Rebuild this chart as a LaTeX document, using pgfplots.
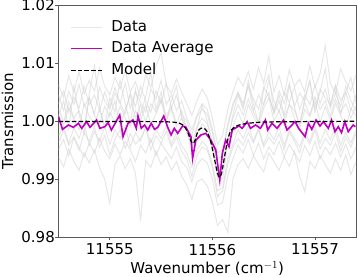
\documentclass[border=0pt]{standalone}
\usepackage{pgfplots}
\usepackage{pgfplotstable}
\pgfplotsset{compat=1.18}
\usepackage{fontspec}
\setmainfont{DejaVu Sans}
\definecolor{mymag}{RGB}{191,0,191}
\definecolor{mygray}{RGB}{211,211,211}
\definecolor{spine}{RGB}{90,90,90}

\pgfplotstableread{
x g1 g2 g3 g4 g5 g6 g7 g8 g9 g10
11554.50 1.0045 0.9962 1.0010 1.0062 0.9938 1.0021 0.9975 1.0030 0.9951 1.0008
11554.55 1.0018 0.9985 0.9992 1.0041 0.9921 0.9998 0.9990 1.0052 0.9968 1.0035
11554.60 1.0051 0.9958 1.0024 1.0078 0.9952 1.0033 0.9962 1.0015 0.9940 0.9985
11554.65 1.0029 0.9972 1.0003 1.0050 0.9930 1.0005 0.9988 1.0041 0.9972 1.0060
11554.70 1.0063 0.9949 0.9985 1.0085 0.9915 1.0018 0.9970 1.0022 0.9955 1.0012
11554.75 1.0025 0.9980 1.0030 1.0047 0.9945 0.9990 0.9995 1.0060 0.9938 0.9978
11554.80 1.0040 0.9965 1.0008 1.0070 0.9928 1.0040 0.9958 1.0028 0.9962 1.0048
11554.85 1.0012 0.9990 0.9995 1.0052 0.9950 1.0010 0.9982 1.0045 0.9945 1.0095
11554.90 1.0058 0.9955 1.0020 1.0091 0.9920 0.9995 0.9965 1.0018 0.9970 1.0025
11554.95 1.0035 0.9975 0.9988 1.0060 0.9900 1.0025 0.9990 1.0050 0.9948 0.9990
11555.00 1.0020 0.9942 1.0015 1.0045 0.9858 1.0008 0.9960 1.0025 0.9935 1.0040
11555.05 1.0048 0.9968 0.9998 1.0075 0.9925 1.0035 0.9985 1.0058 0.9960 1.0015
11555.10 1.0030 0.9985 1.0025 1.0055 0.9940 0.9992 0.9970 1.0032 0.9942 1.0070
11555.15 1.0065 0.9952 1.0005 1.0088 0.9918 1.0020 0.9992 1.0012 0.9965 1.0030
11555.20 1.0022 0.9978 0.9990 1.0050 0.9935 1.0045 0.9955 1.0048 0.9950 0.9995
11555.25 1.0050 0.9960 1.0018 1.0068 0.9910 1.0005 0.9980 1.0025 0.9930 1.0055
11555.30 1.0032 0.9970 1.0000 1.0040 0.9828 1.0028 0.9965 1.0060 0.9958 1.0010
11555.35 1.0015 0.9988 1.0028 1.0080 0.9932 0.9998 0.9990 1.0035 0.9945 1.0042
11555.40 1.0055 0.9950 0.9995 1.0058 0.9920 1.0030 0.9962 1.0015 0.9970 1.0085
11555.45 1.0038 0.9975 1.0012 1.0095 0.9948 1.0015 0.9985 1.0052 0.9940 1.0020
11555.50 1.0070 0.9962 1.0035 1.0118 0.9925 1.0040 0.9970 1.0030 0.9962 1.0050
11555.55 1.0028 0.9982 1.0002 1.0062 0.9938 1.0008 0.9992 1.0065 0.9948 0.9998
11555.60 1.0045 0.9955 1.0020 1.0048 0.9915 1.0025 0.9960 1.0022 0.9935 1.0035
11555.65 1.0018 0.9972 0.9990 1.0072 0.9930 0.9995 0.9980 1.0045 0.9955 1.0060
11555.70 1.0035 0.9948 1.0005 1.0050 0.9905 1.0018 0.9958 1.0010 0.9930 1.0005
11555.75 1.0005 0.9935 0.9980 1.0030 0.9890 0.9985 0.9945 1.0000 0.9920 0.9990
11555.80 0.9985 0.9905 0.9955 1.0010 0.9865 0.9960 0.9920 0.9975 0.9895 0.9950
11555.85 1.0010 0.9940 0.9978 1.0035 0.9895 0.9990 0.9950 1.0008 0.9925 0.9985
11555.90 1.0030 0.9955 0.9995 1.0055 0.9900 1.0005 0.9965 1.0020 0.9935 1.0028
11555.95 1.0020 0.9950 0.9985 1.0040 0.9888 0.9995 0.9955 1.0012 0.9928 1.0000
11556.00 0.9985 0.9920 0.9950 1.0005 0.9860 0.9965 0.9925 0.9980 0.9900 0.9960
11556.05 0.9945 0.9870 0.9905 0.9960 0.9820 0.9915 0.9880 0.9935 0.9855 0.9900
11556.10 0.9950 0.9880 0.9900 0.9975 0.9830 0.9920 0.9885 0.9940 0.9860 0.9915
11556.15 0.9995 0.9925 0.9960 1.0020 0.9808 0.9970 0.9935 0.9990 0.9905 0.9965
11556.20 1.0030 0.9955 0.9990 1.0050 0.9900 1.0005 0.9960 1.0025 0.9935 1.0010
11556.25 1.0048 0.9970 1.0015 1.0075 0.9925 1.0028 0.9985 1.0050 0.9958 1.0045
11556.30 1.0025 0.9958 0.9995 1.0060 0.9935 1.0010 0.9970 1.0030 0.9945 1.0020
11556.35 1.0060 0.9980 1.0028 1.0085 0.9918 1.0038 0.9992 1.0062 0.9968 1.0070
11556.40 1.0038 0.9962 1.0008 1.0055 0.9940 1.0015 0.9965 1.0018 0.9940 1.0030
11556.45 1.0020 0.9985 0.9990 1.0092 0.9925 0.9998 0.9988 1.0045 0.9962 0.9995
11556.50 1.0058 0.9955 1.0022 1.0065 0.9912 1.0030 0.9960 1.0028 0.9935 1.0055
11556.55 1.0042 0.9972 1.0040 1.0112 0.9945 1.0050 0.9982 1.0070 0.9955 1.0080
11556.60 1.0015 0.9960 1.0000 1.0050 0.9930 1.0012 0.9968 1.0035 0.9942 1.0018
11556.65 1.0052 0.9978 1.0018 1.0078 0.9915 1.0035 0.9990 1.0015 0.9965 1.0045
11556.70 1.0030 0.9950 0.9992 1.0045 0.9938 1.0005 0.9958 1.0050 0.9938 1.0010
11556.75 1.0065 0.9982 1.0030 1.0088 0.9922 1.0028 0.9985 1.0032 0.9960 1.0062
11556.80 1.0025 0.9965 1.0005 1.0060 0.9948 1.0018 0.9970 1.0058 0.9945 1.0025
11556.85 1.0048 0.9945 0.9985 1.0072 0.9905 0.9995 0.9955 1.0020 0.9930 0.9990
11556.90 1.0035 0.9975 1.0020 1.0050 0.9878 1.0032 0.9980 1.0045 0.9958 1.0040
11556.95 1.0070 0.9960 1.0008 1.0095 0.9930 1.0010 0.9965 1.0028 0.9940 1.0068
11557.00 1.0022 0.9985 1.0035 1.0058 0.9918 1.0042 0.9992 1.0062 0.9965 1.0015
11557.05 1.0055 0.9952 0.9998 1.0082 0.9940 1.0020 0.9962 1.0030 0.9935 1.0050
11557.10 1.0040 0.9970 1.0025 1.0130 0.9925 1.0035 0.9985 1.0055 0.9955 1.0090
11557.15 1.0028 0.9958 1.0002 1.0065 0.9910 1.0008 0.9968 1.0022 0.9942 1.0028
11557.20 1.0062 0.9980 1.0030 1.0048 0.9935 1.0038 0.9990 1.0048 0.9962 1.0060
11557.25 1.0035 0.9948 1.0010 1.0090 0.9915 1.0015 0.9958 1.0025 0.9938 1.0012
11557.30 1.0050 0.9972 0.9988 1.0068 0.9942 1.0030 0.9980 1.0060 0.9960 1.0048
11557.35 1.0018 0.9955 1.0022 1.0052 0.9908 1.0005 0.9962 1.0035 0.9935 1.0075
11557.40 1.0045 0.9978 1.0008 1.0080 0.9930 1.0025 0.9985 1.0018 0.9955 1.0030
}\graydata

\pgfplotstableread{
x y
11554.500 1.00075
11554.539 0.99856
11554.597 0.99931
11554.645 0.99891
11554.694 0.99960
11554.726 0.99874
11554.774 0.99989
11554.807 0.99891
11554.871 1.00017
11554.903 0.99874
11554.952 0.99902
11554.984 0.99971
11555.016 0.99845
11555.097 1.00103
11555.129 0.99730
11555.178 0.99960
11555.226 1.00017
11555.258 0.99874
11555.275 1.00086
11555.307 0.99874
11555.339 0.99931
11555.371 0.99845
11555.404 0.99960
11555.436 0.99856
11555.468 0.99891
11555.526 1.00086
11555.565 0.99891
11555.597 0.99759
11555.629 0.99874
11555.662 0.99787
11555.710 0.99914
11555.742 0.99891
11555.791 0.99730
11555.807 0.99356
11555.839 0.99672
11555.888 0.99759
11555.936 0.99787
11555.984 0.99672
11556.033 0.99500
11556.072 0.98983
11556.097 0.99443
11556.130 0.99672
11556.162 0.99557
11556.194 0.99845
11556.259 0.99914
11556.291 0.99874
11556.339 0.99989
11556.372 0.99874
11556.420 0.99931
11556.468 0.99874
11556.517 1.00017
11556.539 0.99845
11556.581 0.99960
11556.630 0.99874
11556.694 1.00017
11556.727 0.99845
11556.759 0.99902
11556.807 0.99989
11556.840 0.99874
11556.904 0.99730
11556.936 0.99960
11556.969 0.99856
11557.011 1.00017
11557.049 0.99914
11557.082 0.99989
11557.130 0.99874
11557.162 1.00017
11557.195 0.99816
11557.227 0.99902
11557.259 0.99799
11557.291 0.99989
11557.324 0.99816
11557.372 0.99931
11557.394 0.99902
}\avgdata

\pgfplotstableread{
x y
11554.50 0.99990
11555.20 0.99990
11555.50 0.99988
11555.62 0.99980
11555.68 0.99960
11555.72 0.99920
11555.75 0.99840
11555.77 0.99760
11555.79 0.99660
11555.81 0.99610
11555.83 0.99660
11555.85 0.99780
11555.87 0.99850
11555.90 0.99880
11555.93 0.99860
11555.96 0.99770
11555.99 0.99600
11556.02 0.99350
11556.05 0.99100
11556.07 0.99030
11556.09 0.99100
11556.12 0.99400
11556.15 0.99680
11556.18 0.99830
11556.22 0.99900
11556.28 0.99940
11556.40 0.99970
11556.60 0.99985
11557.40 0.99995
}\modeldata

\begin{document}
\begin{tikzpicture}
\begin{axis}[
  name=ax,
  scale only axis,
  width=297.5pt, height=232pt,
  xmin=11554.5, xmax=11557.4,
  ymin=0.98, ymax=1.02,
  xtick={11555,11556,11557},
  ytick={0.98,0.99,1.00,1.01,1.02},
  yticklabels={0.98,0.99,1.00,1.01,1.02},
  scaled ticks=false,
  font=\fontsize{15}{18}\selectfont,
  /pgf/number format/assume math mode=true,
  xticklabel style={/pgf/number format/.cd, fixed, 1000 sep={}},
  yticklabel style={anchor=east, inner sep=0pt},
  tick align=outside,
  tick pos=left,
  major tick length=3.5pt,
  every tick/.style={spine, line width=0.8pt},
  axis line style={spine, line width=0.8pt},
  xlabel={Wavenumber (cm$^{-1}$)},
  ylabel={Transmission},
  xlabel style={at={(axis description cs:0.5,0)}, anchor=base, yshift=-36.5pt, inner sep=0pt},
  ylabel style={at={(axis description cs:-0.1513,0.5)}, anchor=south, inner sep=0pt},
  legend cell align=left,
  legend image code/.code={\draw[#1] (0pt,0pt) -- (31pt,0pt);},
  legend style={draw=none, fill=none, at={(axis description cs:0,1)}, anchor=north west,
    xshift=11.5pt, yshift=-13pt, inner sep=0pt, row sep=3.5pt, column sep=6.5pt,
    font=\fontsize{15}{18}\selectfont,
    nodes={inner sep=2pt, text height=11pt, text depth=3pt}},
]
\addplot[color=mygray, line width=1pt, opacity=0.55] table[x=x, y=g1] {\graydata};
\addlegendentry{Data}
\addplot[color=mygray, line width=1pt, opacity=0.55, forget plot] table[x=x, y=g2] {\graydata};
\addplot[color=mygray, line width=1pt, opacity=0.55, forget plot] table[x=x, y=g3] {\graydata};
\addplot[color=mygray, line width=1pt, opacity=0.55, forget plot] table[x=x, y=g4] {\graydata};
\addplot[color=mygray, line width=1pt, opacity=0.55, forget plot] table[x=x, y=g5] {\graydata};
\addplot[color=mygray, line width=1pt, opacity=0.55, forget plot] table[x=x, y=g6] {\graydata};
\addplot[color=mygray, line width=1pt, opacity=0.55, forget plot] table[x=x, y=g7] {\graydata};
\addplot[color=mygray, line width=1pt, opacity=0.55, forget plot] table[x=x, y=g8] {\graydata};
\addplot[color=mygray, line width=1pt, opacity=0.55, forget plot] table[x=x, y=g9] {\graydata};
\addplot[color=mygray, line width=1pt, opacity=0.55, forget plot] table[x=x, y=g10] {\graydata};
\addplot[color=mymag, line width=1.6pt] table[x=x, y=y] {\avgdata};
\addlegendentry{Data Average}
\addplot[color=black, line width=1.2pt, dash pattern=on 4.5pt off 2.2pt, smooth, tension=0.5] table[x=x, y=y] {\modeldata};
\addlegendentry{Model}
\end{axis}
\pgfresetboundingbox
\useasboundingbox ([xshift=-58.5pt,yshift=-40pt]ax.south west) rectangle ([xshift=1pt,yshift=5pt]ax.north east);
\end{tikzpicture}
\end{document}
